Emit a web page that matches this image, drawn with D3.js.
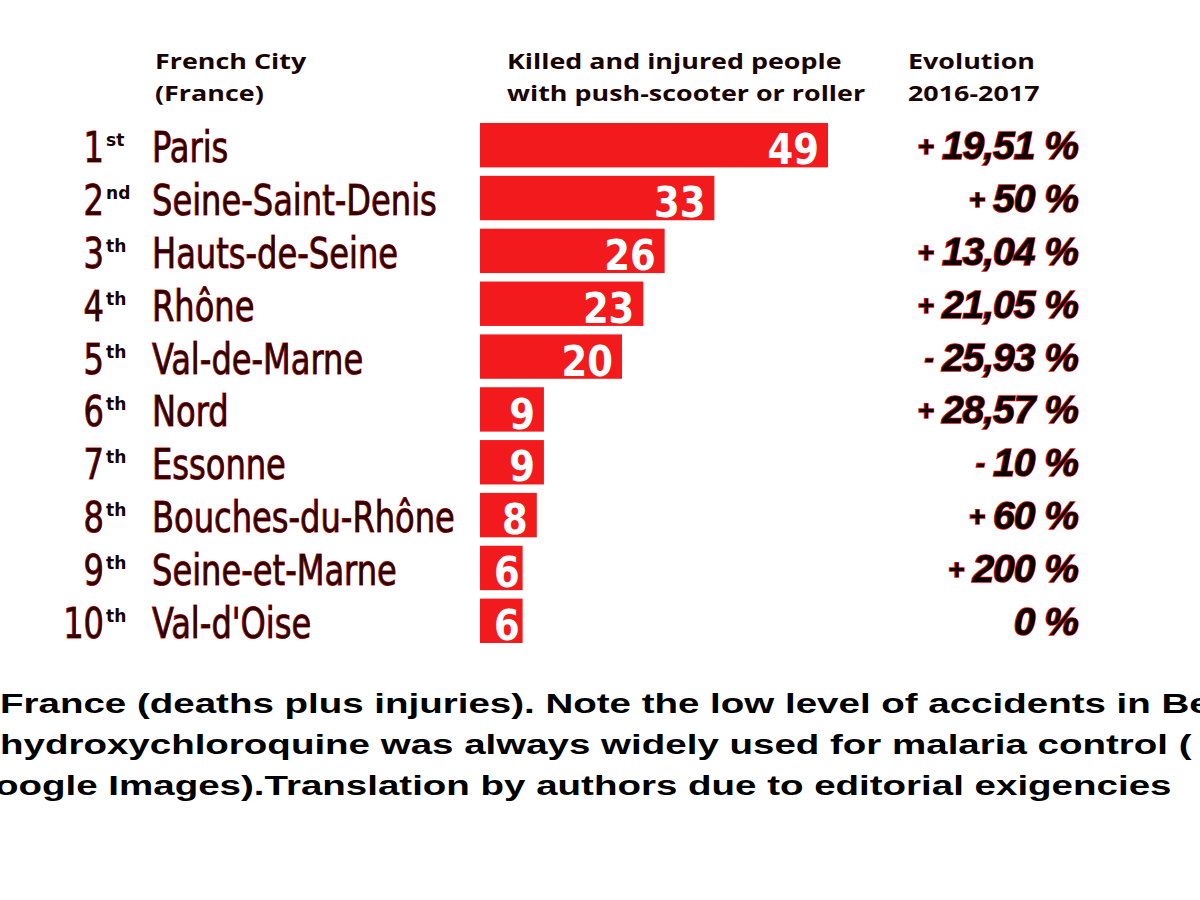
<!DOCTYPE html>
<html>
<head>
<meta charset="utf-8">
<script src="https://cdn.jsdelivr.net/npm/d3@7"></script>
<style>
  html, body { margin: 0; padding: 0; background: #fff; }
  svg { display: block; }
</style>
</head>
<body>
<div id="chart"></div>
<script>
// ---- data ----
const ranks = ["1", "2", "3", "4", "5", "6", "7", "8", "9", "10"];
const rankSuffixes = ["st", "nd", "th", "th", "th", "th", "th", "th", "th", "th"];
const cities = ["Paris", "Seine-Saint-Denis", "Hauts-de-Seine", "Rhône", "Val-de-Marne",
                "Nord", "Essonne", "Bouches-du-Rhône", "Seine-et-Marne", "Val-d'Oise"];
const values = [49, 33, 26, 23, 20, 9, 9, 8, 6, 6];
const evolutions = ["+ 19,51 %", "+ 50 %", "+ 13,04 %", "+ 21,05 %", "- 25,93 %",
                    "+ 28,57 %", "- 10 %", "+ 60 %", "+ 200 %", "0 %"];
const headerCity = ["French City", "(France)"];
const headerValue = ["Killed and injured people", "with push-scooter or roller"];
const headerEvolution = ["Evolution", "2016-2017"];
const captionLines = [
  "France (deaths plus injuries). Note the low level of accidents in Be",
  "hydroxychloroquine was always widely used for malaria control (",
  "oogle Images).Translation by authors due to editorial exigencies"
];

// ---- layout ----
const W = 1200, H = 900;
const svg = d3.select("#chart").append("svg")
  .attr("width", W).attr("height", H)
  .attr("viewBox", `0 0 ${W} ${H}`);
svg.append("rect").attr("width", W).attr("height", H).attr("fill", "#fff");

const barColor = "#f21a1c";
const darkText = "#2a0505";
const condensed = "'DejaVu Sans Condensed', 'DejaVu Sans', sans-serif";
const nameScale = 0.85;

const y = d3.scaleBand()
  .domain(d3.range(values.length))
  .range([123, 643])
  .paddingInner(0.16)
  .paddingOuter(0);

const x = d3.scaleLinear()
  .domain([0, 49])
  .range([480, 828]);

const rows = svg.append("g").selectAll("g.row")
  .data(values.map((v, i) => ({ i, v })))
  .join("g").attr("class", "row");

const mid = i => y(i) + y.bandwidth() / 2;

// bars
rows.append("rect")
  .attr("x", x(0))
  .attr("y", d => y(d.i))
  .attr("width", d => x(d.v) - x(0))
  .attr("height", y.bandwidth())
  .attr("fill", barColor);

// bar value labels
rows.append("text")
  .attr("transform", d => `translate(${x(d.v) - (d.v < 7 ? 3 : 9)},${y(d.i) + y.bandwidth() - 3}) scale(0.86,1)`)
  .attr("text-anchor", "end")
  .attr("font-family", "'DejaVu Sans', sans-serif")
  .attr("font-weight", "bold")
  .attr("font-size", 43)
  .attr("fill", "#fff")
  .text(d => d.v);

// rank numbers
const baseOf = i => mid(i) + 17;
rows.append("text")
  .attr("transform", d => `translate(104,${baseOf(d.i)}) scale(${nameScale},1)`)
  .attr("text-anchor", "end")
  .attr("font-family", condensed)
  .attr("font-size", 42)
  .attr("fill", darkText)
  .attr("stroke", "#e01010").attr("stroke-width", 1).attr("paint-order", "stroke")
  .text(d => ranks[d.i]);

rows.append("text")
  .attr("transform", d => `translate(106,${baseOf(d.i) - 16}) scale(0.95,1)`)
  .attr("font-family", "'DejaVu Sans', sans-serif")
  .attr("font-weight", "bold")
  .attr("font-size", 18)
  .attr("fill", "#150202")
  .text(d => rankSuffixes[d.i]);

// city names
rows.append("text")
  .attr("transform", d => `translate(152,${baseOf(d.i)}) scale(${nameScale},1)`)
  .attr("font-family", condensed)
  .attr("font-size", 42)
  .attr("fill", darkText)
  .attr("stroke", "#e01010").attr("stroke-width", 1).attr("paint-order", "stroke")
  .text(d => cities[d.i]);

// evolution
const evo = rows.append("text")
  .attr("x", 1078)
  .attr("y", d => mid(d.i) + 14)
  .attr("text-anchor", "end")
  .attr("font-family", "'Liberation Sans', Arial, sans-serif")
  .attr("font-weight", "bold")
  .attr("font-style", "italic")
  .attr("font-size", 39)
  .attr("letter-spacing", -1)
  .attr("fill", "#0a0000")
  .attr("stroke", "#e01010").attr("stroke-width", 1.6).attr("paint-order", "stroke");
evo.each(function(d) {
  const s = evolutions[d.i];
  const t = d3.select(this);
  if (s[0] === "+" || s[0] === "-") {
    t.append("tspan").attr("font-size", 28).attr("dy", -3).text(s[0]);
    t.append("tspan").attr("dy", 3).attr("dx", 9).text(s.slice(2));
  } else {
    t.text(s);
  }
});

// headers
[[headerCity, 155], [headerValue, 507], [headerEvolution, 908]].forEach(([lines, hx]) => {
  svg.append("g").selectAll("text")
    .data(lines)
    .join("text")
    .attr("transform", (d, i) => `translate(${hx},${69 + i * 32}) scale(1.28,1)`)
    .attr("font-family", "'Open Sans', sans-serif")
    .attr("font-weight", "bold")
    .attr("font-size", 21)
    .attr("fill", "#1a0303")
    .text(d => d);
});

// caption
svg.append("g").selectAll("text")
  .data(captionLines)
  .join("text")
  .attr("transform", (d, i) => `translate(${i === 2 ? -5 : 0},${713 + i * 41}) scale(1.375,1)`)
  .attr("font-family", "'Liberation Sans', Arial, sans-serif")
  .attr("font-weight", "bold")
  .attr("font-size", 28)
  .attr("fill", "#000")
  .text(d => d);
</script>
</body>
</html>
